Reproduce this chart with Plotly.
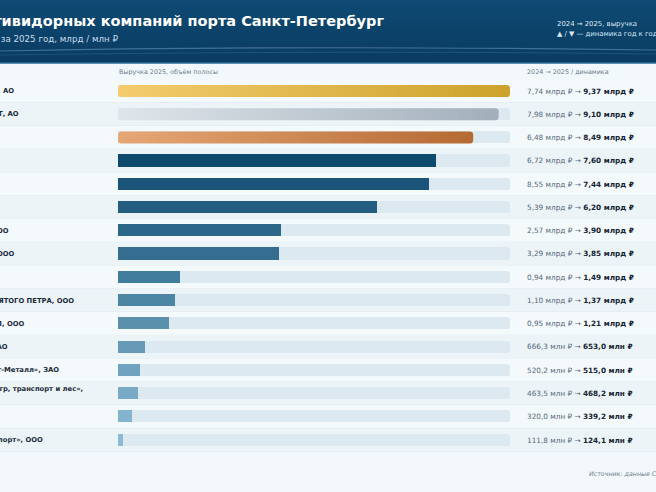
import numpy as np
import plotly.graph_objects as go

# ---------------- data ----------------
companies = [
    "«Первая Стивидорная», АО",
    "ГРУППА ПЕТРОЛЕСПОРТ, АО",
    "ПКТ, АО",
    "КТСП, АО",
    "ПНТ, АО",
    "Моби Дик, ООО",
    "Северный терминал, ООО",
    "Невская стивидорная, ООО",
    "Трансбункер, ООО",
    "ПЕРВЫЙ ТЕРМИНАЛ СВЯТОГО ПЕТРА, ООО",
    "ЛЕНИНСКИЙ ТЕРМИНАЛ, ООО",
    "Ладожский стивидор, АО",
    "Речной терминал «Балт-Металл», ЗАО",
    "«Северо-Западный Лиагр, транспорт и лес»,<br>ООО",
    "Пилот, ООО",
    "«Северо-Западный Экспорт», ООО",
]
rev_2024_mln = [7740, 7980, 6480, 6720, 8550, 5390, 2570, 3290, 940, 1100, 950,
                666.3, 520.2, 463.5, 320.0, 111.8]
rev_2025_mln = [9370, 9100, 8490, 7600, 7440, 6200, 3900, 3850, 1490, 1370, 1210,
                653.0, 515.0, 468.2, 339.2, 124.1]
bar_colors = ["#e2b84a", "#c3ccd4", "#cf8a55", "#0d4a6d", "#1a5479", "#235d81",
              "#2c6688", "#346d8f", "#417d9c", "#4d86a5", "#5b90ac", "#6699b5",
              "#70a3c0", "#78aac6", "#82b4cf", "#8bbbd4"]
medal_gradients = [("#f3cd6e", "#cda22c"), ("#dfe5ea", "#a2afba"), ("#e6a776", "#b56a33")]

title = "Выручка стивидорных компаний порта Санкт-Петербург"
subtitle = "Рейтинг по выручке за 2025 год, млрд / млн ₽"
legend1 = "2024 → 2025, выручка"
legend2 = "▲ / ▼ — динамика год к году"
col_head_bar = "Выручка 2025, объём полосы"
col_head_val = "2024 → 2025 / динамика"
source = "Источник: данные СПАРК-Интерфакс"

# ---------------- layout geometry ----------------
W, H = 656, 492
FONT = "DejaVu Sans"
n = len(companies)
row_h = 23.27
first_c = 91.0
top_px = first_c - row_h / 2
bot_px = first_c + row_h * (n - 1) + row_h / 2
x0_px, x1_px = 118, 510
xmax = max(rev_2025_mln)
bar_w = 0.52


def px_x(p):
    return p / W


def px_y(p):
    return 1 - p / H


def fmt(v, billions):
    if billions:
        return f"{v/1000:.2f}".replace(".", ",") + " млрд ₽"
    return f"{v:.1f}".replace(".", ",") + " млн ₽"


fig = go.Figure()

idx = list(range(n))
# background tracks
fig.add_trace(go.Bar(x=[xmax] * n, y=idx, orientation="h", width=bar_w,
                     marker=dict(color="#dde9f1", cornerradius=3, line=dict(width=0)),
                     hoverinfo="skip", showlegend=False))
# regular bars (rank 4+)
fig.add_trace(go.Bar(x=rev_2025_mln[3:], y=idx[3:], orientation="h", width=bar_w,
                     marker=dict(color=bar_colors[3:], cornerradius=3, line=dict(width=0)),
                     hoverinfo="skip", showlegend=False))

# gradient medal bars drawn as rounded polygons through the axis scales
sx = (x1_px - x0_px) / xmax
sy = row_h
r = 3.0
for i, (c1, c2) in enumerate(medal_gradients):
    v = rev_2025_mln[i]
    rx, ry = r / sx, r / sy
    yt, yb = i - bar_w / 2, i + bar_w / 2
    pts = []
    for cx, cy, a0 in [(v - rx, yt + ry, -90), (v - rx, yb - ry, 0),
                       (rx, yb - ry, 90), (rx, yt + ry, 180)]:
        for a in np.linspace(a0, a0 + 90, 7):
            t = np.radians(a)
            pts.append((cx + rx * np.cos(t), cy + ry * np.sin(t)))
    pts.append(pts[0])
    fig.add_trace(go.Scatter(x=[p[0] for p in pts], y=[p[1] for p in pts],
                             mode="lines", line=dict(width=0), fill="toself",
                             fillgradient=dict(type="horizontal",
                                               colorscale=[[0, c1], [1, c2]]),
                             hoverinfo="skip", showlegend=False))

# header gradient on its own invisible axes
fig.add_trace(go.Scatter(x=[0, 1, 1, 0, 0], y=[0, 0, 1, 1, 0], xaxis="x2", yaxis="y2",
                         mode="lines", line=dict(width=0), fill="toself",
                         fillgradient=dict(type="vertical",
                                           colorscale=[[0, "#0a3b60"], [1, "#0e4a74"]]),
                         hoverinfo="skip", showlegend=False))

shapes = []
for i in range(n):
    shapes.append(dict(type="rect", xref="paper", yref="y", x0=0, x1=1,
                       y0=i - 0.5, y1=i + 0.5, layer="below", line=dict(width=0),
                       fillcolor="#f4f9fc" if i % 2 == 0 else "#ecf4f8"))
    shapes.append(dict(type="line", xref="paper", yref="y", x0=0, x1=1,
                       y0=i + 0.5, y1=i + 0.5, layer="below",
                       line=dict(color="#dce7ee", width=0.8)))
# header wave and bottom edge
shapes.append(dict(type="path", xref="paper", yref="paper",
                   path=f"M 0 {px_y(51)} Q 0.45 {px_y(45)} 1 {px_y(50)}",
                   line=dict(color="rgba(170,210,235,0.35)", width=1.2)))
shapes.append(dict(type="path", xref="paper", yref="paper",
                   path=f"M 0 {px_y(55)} Q 0.55 {px_y(50)} 1 {px_y(54)}",
                   line=dict(color="rgba(170,210,235,0.15)", width=1)))
shapes.append(dict(type="line", xref="paper", yref="paper", x0=0, x1=1,
                   y0=px_y(63), y1=px_y(63), line=dict(color="#2a6d98", width=1.5)))

ann = []
label_x = px_x(-95)
for i, name in enumerate(companies):
    ann.append(dict(x=label_x, y=i, xref="paper", yref="y", text=f"<b>{name}</b>",
                    xanchor="left", yanchor="middle", align="left", showarrow=False,
                    font=dict(family=FONT, size=6.8, color="#1b2a3a")))
    bn = rev_2025_mln[i] >= 1000
    txt = (f"<span style='color:#56687a'>{fmt(rev_2024_mln[i], bn)} →</span> "
           f"<b>{fmt(rev_2025_mln[i], bn)}</b>")
    ann.append(dict(x=px_x(525), y=i, xref="paper", yref="y", text=txt,
                    xanchor="left", yanchor="middle", showarrow=False,
                    font=dict(family=FONT, size=7.3, color="#142433")))

ann += [
    dict(x=px_x(-96), y=px_y(21), xref="paper", yref="paper", text=f"<b>{title}</b>",
         xanchor="left", yanchor="middle", showarrow=False,
         font=dict(family=FONT, size=14.5, color="#ffffff")),
    dict(x=px_x(-96), y=px_y(39), xref="paper", yref="paper", text=subtitle,
         xanchor="left", yanchor="middle", showarrow=False,
         font=dict(family=FONT, size=8.7, color="#c9dcea")),
    dict(x=px_x(555), y=px_y(24), xref="paper", yref="paper", text=legend1,
         xanchor="left", yanchor="middle", showarrow=False,
         font=dict(family=FONT, size=6.9, color="#dbe8f2")),
    dict(x=px_x(555), y=px_y(34.5), xref="paper", yref="paper", text=legend2,
         xanchor="left", yanchor="middle", showarrow=False,
         font=dict(family=FONT, size=6.9, color="#dbe8f2")),
    dict(x=px_x(117), y=px_y(72), xref="paper", yref="paper", text=col_head_bar,
         xanchor="left", yanchor="middle", showarrow=False,
         font=dict(family=FONT, size=6.4, color="#6a7c8b")),
    dict(x=px_x(525), y=px_y(72), xref="paper", yref="paper", text=col_head_val,
         xanchor="left", yanchor="middle", showarrow=False,
         font=dict(family=FONT, size=6.4, color="#6a7c8b")),
    dict(x=px_x(587), y=px_y(474), xref="paper", yref="paper", text=f"<i>{source}</i>",
         xanchor="left", yanchor="middle", showarrow=False,
         font=dict(family=FONT, size=6.3, color="#6f7f8c")),
]

fig.update_layout(
    width=W, height=H, margin=dict(l=0, r=0, t=0, b=0),
    paper_bgcolor="#f2f8fb", plot_bgcolor="rgba(0,0,0,0)",
    barmode="overlay", bargap=0, showlegend=False,
    font=dict(family=FONT),
    xaxis=dict(domain=[px_x(x0_px), px_x(x1_px)], range=[0, xmax], visible=False,
               fixedrange=True),
    yaxis=dict(domain=[px_y(bot_px), px_y(top_px)], range=[n - 0.5, -0.5],
               visible=False, fixedrange=True),
    xaxis2=dict(domain=[0, 1], range=[0, 1], visible=False, anchor="y2"),
    yaxis2=dict(domain=[px_y(63), 1], range=[0, 1], visible=False, anchor="x2"),
    shapes=shapes, annotations=ann,
)

fig.write_html("out.html", config={"displayModeBar": False})
